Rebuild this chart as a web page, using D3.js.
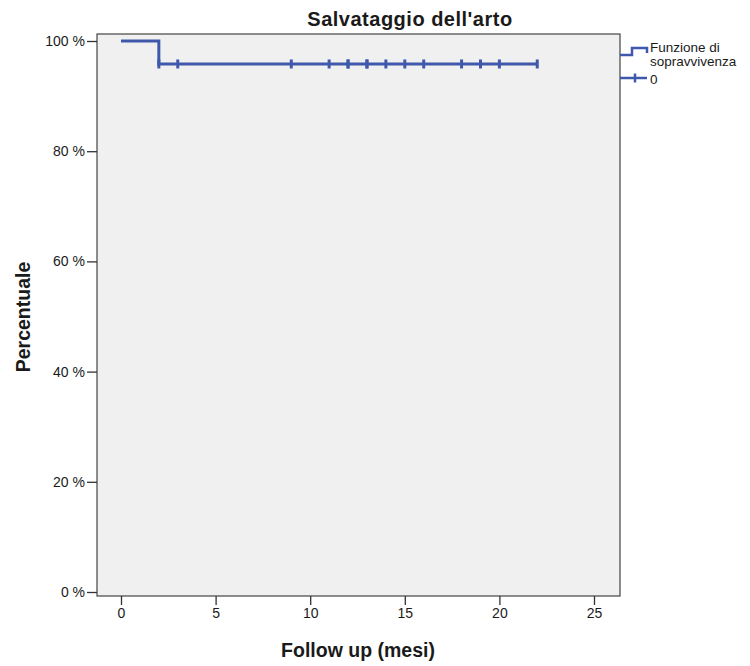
<!DOCTYPE html>
<html>
<head>
<meta charset="utf-8">
<script src="https://cdn.jsdelivr.net/npm/d3@7"></script>
<style>
  body { margin: 0; background: #fff; }
  text { font-family: "Liberation Sans", Arial, sans-serif; fill: #1a1a1a; }
  .axis path, .axis line { stroke: #333; }
  .axis text { font-size: 14px; }
</style>
</head>
<body>
<div id="chart"></div>
<script>
// Kaplan-Meier steps (mesi, %)
const stepTimes = [0, 2, 22];
const stepSurv = [100, 95.83, 95.83];
// censored observations
const censorTimes = [2, 3, 9, 11, 12, 12, 13, 13, 14, 15, 16, 18, 19, 20, 22];
const censorSurv = 95.83;
const xTicks = [0, 5, 10, 15, 20, 25];
const yTicks = [0, 20, 40, 60, 80, 100];
const legendLabels = [["Funzione di", "sopravvivenza"], ["0"]];

const width = 750, height = 666;
const box = {left: 97, right: 620, top: 34, bottom: 596};
const color = "#3f58ab";

const svg = d3.select("#chart").append("svg")
    .attr("width", width)
    .attr("height", height);

// Scales
const x = d3.scaleLinear().domain([0, 25]).range([121, 594]);
const y = d3.scaleLinear().domain([0, 100]).range([592, 41]);

// Plot background
svg.append("rect")
    .attr("x", box.left).attr("y", box.top)
    .attr("width", box.right - box.left).attr("height", box.bottom - box.top)
    .attr("fill", "#f0f0f0").attr("stroke", "#444").attr("stroke-width", 1.2);

// Axes
svg.append("g")
    .attr("class", "axis")
    .attr("transform", `translate(0,${box.bottom})`)
    .call(d3.axisBottom(x).tickValues(xTicks).tickSize(9).tickPadding(3))
    .call(g => g.select(".domain").remove())
    .call(g => g.selectAll("line").attr("stroke-width", 1.3));

svg.append("g")
    .attr("class", "axis")
    .attr("transform", `translate(${box.left},0)`)
    .call(d3.axisLeft(y).tickValues(yTicks).tickFormat(d => d + " %").tickSize(10).tickPadding(2))
    .call(g => g.select(".domain").remove())
    .call(g => g.selectAll("line").attr("stroke-width", 1.3));

// Step line
const line = d3.line()
    .x(d => x(d[0]))
    .y(d => y(d[1]))
    .curve(d3.curveStepAfter);

svg.append("path")
    .datum(stepTimes.map((t, i) => [t, stepSurv[i]]))
    .attr("fill", "none")
    .attr("stroke", color)
    .attr("stroke-width", 3)
    .attr("d", line);

// Censor marks
svg.append("g").selectAll("line")
    .data(censorTimes)
    .join("line")
    .attr("x1", d => x(d)).attr("x2", d => x(d))
    .attr("y1", y(censorSurv) - 4.5).attr("y2", y(censorSurv) + 4.5)
    .attr("stroke", color)
    .attr("stroke-width", 3);

// Title and axis titles
svg.append("text")
    .attr("x", 410).attr("y", 26)
    .attr("text-anchor", "middle")
    .style("font-size", "20px").style("font-weight", "bold")
    .style("letter-spacing", "0.5px")
    .text("Salvataggio dell'arto");

svg.append("text")
    .attr("x", 358).attr("y", 657)
    .attr("text-anchor", "middle")
    .style("font-size", "19.5px").style("font-weight", "bold")
    .text("Follow up (mesi)");

svg.append("text")
    .attr("transform", "translate(30,317) rotate(-90)")
    .attr("text-anchor", "middle")
    .style("font-size", "19.5px").style("font-weight", "bold")
    .text("Percentuale");

// Legend
const lg = svg.append("g");
lg.append("path")
    .attr("d", "M620,55H632V48H647V53")
    .attr("fill", "none").attr("stroke", color).attr("stroke-width", 2.5);
lg.append("text")
    .attr("x", 650).attr("y", 51.5)
    .style("font-size", "13.5px")
    .selectAll("tspan")
    .data(legendLabels[0])
    .join("tspan")
    .attr("x", 650)
    .attr("dy", (d, i) => i === 0 ? 0 : 14.5)
    .text(d => d);

lg.append("line")
    .attr("x1", 620).attr("x2", 647).attr("y1", 78).attr("y2", 78)
    .attr("stroke", color).attr("stroke-width", 2.5);
lg.append("line")
    .attr("x1", 635).attr("x2", 635).attr("y1", 73.5).attr("y2", 82.5)
    .attr("stroke", color).attr("stroke-width", 2.5);
lg.append("text")
    .attr("x", 650).attr("y", 84)
    .style("font-size", "13.5px")
    .text(legendLabels[1][0]);
</script>
</body>
</html>
